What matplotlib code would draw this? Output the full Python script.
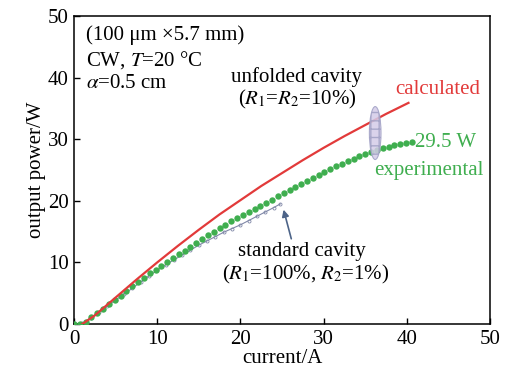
import matplotlib
matplotlib.use('Agg')
import matplotlib.pyplot as plt
from matplotlib.patches import Ellipse

# calculated (unfolded cavity)
calc_i = [1.0, 2.5, 5, 7.5, 10, 12.5, 15, 17.5, 20, 22.5, 25, 27.5, 30,
          32.5, 35, 37.5, 40.2]
calc_p = [0.0, 1.4, 4.3, 7.2, 10.0, 12.7, 15.3, 17.8, 20.1, 22.4, 24.5,
          26.6, 28.6, 30.5, 32.3, 34.1, 35.9]

# experimental (unfolded cavity)
exp_i = [0.0, 0.7, 1.4, 2.1, 2.8, 3.5, 4.2, 4.9, 5.6, 6.3, 7.0, 7.7, 8.4, 9.1,
         9.8, 10.5, 11.2, 11.9, 12.6, 13.3, 14.0, 14.7, 15.4, 16.1, 16.8, 17.5,
         18.2, 18.9, 19.6, 20.3, 21.0, 21.7, 22.4, 23.1, 23.8, 24.5, 25.2, 25.9,
         26.6, 27.3, 28.0, 28.7, 29.4, 30.1, 30.8, 31.5, 32.2, 32.9, 33.6, 34.3,
         35.0, 35.7, 36.4, 37.1, 37.8, 38.5, 39.2, 39.9, 40.6]
exp_p = [0.0, 0.0, 0.3, 1.1, 1.8, 2.5, 3.2, 3.9, 4.6, 5.3, 6.1, 6.8, 7.5, 8.2,
         8.8, 9.4, 10.0, 10.7, 11.3, 11.9, 12.5, 13.1, 13.8, 14.4, 15.0, 15.6,
         16.1, 16.7, 17.2, 17.7, 18.2, 18.7, 19.2, 19.7, 20.2, 20.7, 21.2, 21.7,
         22.2, 22.7, 23.2, 23.7, 24.2, 24.7, 25.2, 25.6, 26.0, 26.4, 26.8, 27.2,
         27.6, 27.9, 28.2, 28.5, 28.8, 29.0, 29.2, 29.4, 29.5]

# standard cavity
std_i = [0, 1, 2, 3, 4, 5, 6, 7, 8, 9, 10, 11, 12, 13, 14, 15, 16, 17, 18, 19,
         20, 21, 22, 23, 24, 24.8]
std_p = [0.0, 0.1, 1.0, 1.9, 2.9, 3.9, 4.8, 5.8, 6.8, 7.8, 8.7, 9.6, 10.4,
         11.2, 12.0, 12.8, 13.5, 14.2, 14.9, 15.5, 16.1, 16.8, 17.5, 18.2,
         18.9, 19.5]

ticks = [0, 10, 20, 30, 40, 50]

red = '#e23a3a'
green = '#3fae4f'

plt.rcParams['font.family'] = ['Liberation Serif', 'DejaVu Serif']
plt.rcParams['mathtext.fontset'] = 'stix'

fig = plt.figure(figsize=(5.08, 3.76), dpi=100)
ax = fig.add_axes([0.1457, 0.1383, 0.8189, 0.8191])

ax.plot(std_i, std_p, '-o', color='#8088a8', linewidth=0.8, markersize=2.2,
        markerfacecolor='none', markeredgewidth=0.6, zorder=2)
ax.plot(exp_i, exp_p, 'o', color=green, markersize=4.6, markeredgewidth=0,
        zorder=3)
ax.plot(calc_i, calc_p, '-', color=red, linewidth=1.6, zorder=4)

ell = Ellipse((36.2, 31.0), 1.4, 8.6, facecolor='#d4cce8', edgecolor='#a0a0c4',
              linewidth=0.8, hatch='++', alpha=0.85, zorder=5)
ax.add_patch(ell)

fs = 15
ax.text(1.5, 46.9, '(100 μm ×5.7 mm)', fontsize=fs, va='center')
ax.text(1.5, 42.9, 'CW, $T$=20 °C', fontsize=fs, va='center')
ax.text(1.5, 39.1, r'$\alpha$=0.5 cm', fontsize=fs, va='center')
ax.text(26.8, 40.1, 'unfolded cavity', fontsize=fs, ha='center', va='center')
ax.text(26.8, 36.4, '($R_1$=$R_2$=10%)', fontsize=fs, ha='center', va='center')
ax.text(43.7, 38.1, 'calculated', fontsize=fs, color=red, ha='center',
        va='center')
ax.text(41.0, 29.5, '29.5 W', fontsize=fs, color=green, va='center')
ax.text(42.7, 25.0, 'experimental', fontsize=fs, color=green, ha='center',
        va='center')
ax.text(27.4, 11.7, 'standard cavity', fontsize=fs, ha='center', va='center')
ax.text(27.9, 8.0, '($R_1$=100%, $R_2$=1%)', fontsize=fs, ha='center',
        va='center')

ax.annotate('', xy=(25.1, 19.0), xytext=(26.2, 13.4),
            arrowprops=dict(arrowstyle='-|>', color='#4d6488', lw=1.2,
                            mutation_scale=10))

ax.set_xlim(0, 50)
ax.set_ylim(0, 50)
ax.set_xticks(ticks)
ax.set_yticks(ticks)
ax.tick_params(direction='in', length=4, width=1, labelsize=fs)
ax.tick_params(axis='x', pad=4)
ax.tick_params(axis='y', pad=4)
for s in ax.spines.values():
    s.set_linewidth(1.1)
ax.set_xlabel('current/A', fontsize=fs, labelpad=0)
ax.set_ylabel('output power/W', fontsize=fs, labelpad=1)

fig.savefig('out.png', dpi=100)
